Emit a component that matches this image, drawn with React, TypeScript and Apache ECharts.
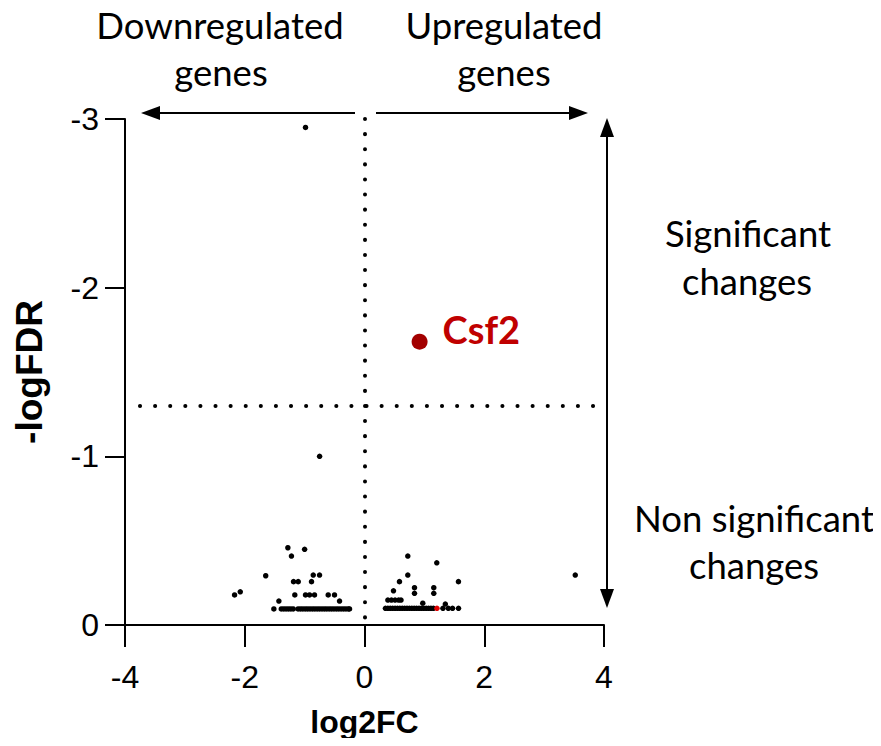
import React, { useEffect, useRef } from "react";
import * as echarts from "echarts";

// Non-significant, downregulated genes [log2FC, logFDR]
const downGenes: [number, number][] = [
  [-0.985, -2.95], [-0.75, -1.0],
  [-2.17, -0.178], [-2.075, -0.197], [-1.65, -0.292],
  [-1.28, -0.458], [-1.22, -0.409], [-1.0, -0.449],
  [-1.185, -0.257], [-1.107, -0.257], [-0.885, -0.257],
  [-0.856, -0.296], [-0.751, -0.296],
  [-1.164, -0.178], [-0.985, -0.178], [-0.918, -0.178], [-0.835, -0.178], [-0.606, -0.178], [-0.501, -0.178],
  [-0.417, -0.142], [-1.43, -0.142], [-1.514, -0.095],
];
const downRowX = [
  -1.39, -1.35, -1.31, -1.27, -1.23, -1.19, -1.11, -1.07, -1.03, -0.99, -0.95, -0.91, -0.87,
  -0.83, -0.79, -0.75, -0.71, -0.67, -0.63, -0.59, -0.55, -0.51, -0.47, -0.43, -0.39, -0.35,
  -0.31, -0.27, -0.25,
];
const downRowY = -0.095;

// Non-significant, upregulated genes
const upGenes: [number, number][] = [
  [0.723, -0.409], [1.207, -0.369], [0.723, -0.296], [0.584, -0.257], [1.569, -0.257],
  [0.484, -0.203], [0.835, -0.221], [0.835, -0.188], [1.157, -0.221], [1.157, -0.188],
  [0.39, -0.148], [0.45, -0.148], [0.51, -0.148], [0.57, -0.148], [0.61, -0.148],
  [0.973, -0.129], [1.35, -0.124], [3.52, -0.296],
];
const upRowX = [
  0.35, 0.39, 0.43, 0.47, 0.51, 0.55, 0.59, 0.63, 0.67, 0.71, 0.75, 0.79, 0.83, 0.87, 0.91,
  0.95, 0.99, 1.03, 1.07, 1.11, 1.15, 1.31, 1.4, 1.47, 1.57,
];
const upRowY = -0.099;

const redSmall: [number, number][] = [[1.21, -0.099]];
const csf2: [number, number][] = [[0.92, -1.68]];

const fdrThreshold = -1.3;
const xRange = [-4, 4];
const yRange = [-3, 0];

const TEXT_FONT = "Lato";
const AXIS_FONT = "Liberation Sans";

export default function App() {
  const ref = useRef<HTMLDivElement>(null);
  useEffect(() => {
    if (!ref.current) return;
    const chart = echarts.init(ref.current, undefined, { renderer: "svg" });
    const black = [
      ...downGenes,
      ...downRowX.map((x) => [x, downRowY]),
      ...upGenes,
      ...upRowX.map((x) => [x, upRowY]),
    ];
    const dotted = { color: "#000", width: 4, type: [0.1, 15], cap: "round", opacity: 1 };
    const txt = (text: string, x: number, y: number) => ({
      type: "text",
      x,
      y,
      style: {
        text,
        fontFamily: TEXT_FONT,
        fontSize: 36.5,
        fill: "#000",
        textAlign: "center",
        textVerticalAlign: "middle",
        verticalAlign: "middle",
        align: "center",
      },
    });
    const line = (x1: number, y1: number, x2: number, y2: number) => ({
      type: "line",
      shape: { x1, y1, x2, y2 },
      style: { stroke: "#000", lineWidth: 2 },
    });
    const head = (points: number[][]) => ({
      type: "polygon",
      shape: { points },
      style: { fill: "#000" },
    });
    chart.setOption({
      animation: false,
      backgroundColor: "#fff",
      grid: { left: 125, top: 119, width: 479, height: 506 },
      xAxis: {
        type: "value",
        min: xRange[0],
        max: xRange[1],
        interval: 2,
        name: "log2FC",
        nameLocation: "middle",
        nameGap: 81,
        nameTextStyle: { fontFamily: AXIS_FONT, fontSize: 32, fontWeight: "bold", color: "#000" },
        axisLine: { show: true, onZero: false, lineStyle: { color: "#000", width: 2 } },
        axisTick: { show: true, length: 22, lineStyle: { color: "#000", width: 2 } },
        axisLabel: { fontFamily: AXIS_FONT, fontSize: 32, color: "#000", margin: 36 },
        splitLine: { show: false },
      },
      yAxis: {
        type: "value",
        min: yRange[0],
        max: yRange[1],
        interval: 1,
        inverse: true,
        name: "-logFDR",
        nameLocation: "middle",
        nameGap: 77,
        nameTextStyle: { fontFamily: AXIS_FONT, fontSize: 37, fontWeight: "bold", color: "#000" },
        axisLine: { show: true, onZero: false, lineStyle: { color: "#000", width: 2 } },
        axisTick: { show: true, length: 20, lineStyle: { color: "#000", width: 2 } },
        axisLabel: { fontFamily: AXIS_FONT, fontSize: 32, color: "#000", margin: 26 },
        splitLine: { show: false },
      },
      series: [
        {
          type: "scatter",
          data: black,
          symbolSize: 5.5,
          itemStyle: { color: "#000", opacity: 1 },
          silent: true,
          markLine: {
            silent: true,
            symbol: "none",
            label: { show: false },
            lineStyle: dotted,
            data: [
              { xAxis: 0 },
              [{ coord: [-3.75, fdrThreshold] }, { coord: [4, fdrThreshold] }],
            ],
          },
        },
        {
          type: "scatter",
          data: redSmall,
          symbolSize: 5.5,
          itemStyle: { color: "#e00000", opacity: 1 },
          silent: true,
        },
        {
          type: "scatter",
          data: csf2,
          symbolSize: 16,
          itemStyle: { color: "#a30000", opacity: 1 },
          silent: true,
          label: {
            show: true,
            position: "right",
            distance: 15,
            offset: [0, -13],
            formatter: "Csf2",
            fontFamily: TEXT_FONT,
            fontSize: 38,
            fontWeight: "bold",
            color: "#c00000",
            opacity: 1,
          },
        },
      ],
      graphic: [
        line(158, 113, 355, 113),
        head([[141, 113], [160, 106], [160, 120]]),
        line(376, 113, 572, 113),
        head([[588, 113], [569, 106], [569, 120]]),
        line(607, 134, 607, 592),
        head([[607, 118], [600, 137], [614, 137]]),
        head([[607, 608], [600, 589], [614, 589]]),
        txt("Downregulated", 220, 25),
        txt("genes", 221, 72),
        txt("Upregulated", 504, 25),
        txt("genes", 504, 72),
        txt("Significant", 748, 233),
        txt("changes", 747, 281),
        txt("Non significant", 754, 518),
        txt("changes", 754, 565),
      ],
    });
    return () => chart.dispose();
  }, []);
  return <div ref={ref} style={{ width: 881, height: 746, margin: -8 }} />;
}
